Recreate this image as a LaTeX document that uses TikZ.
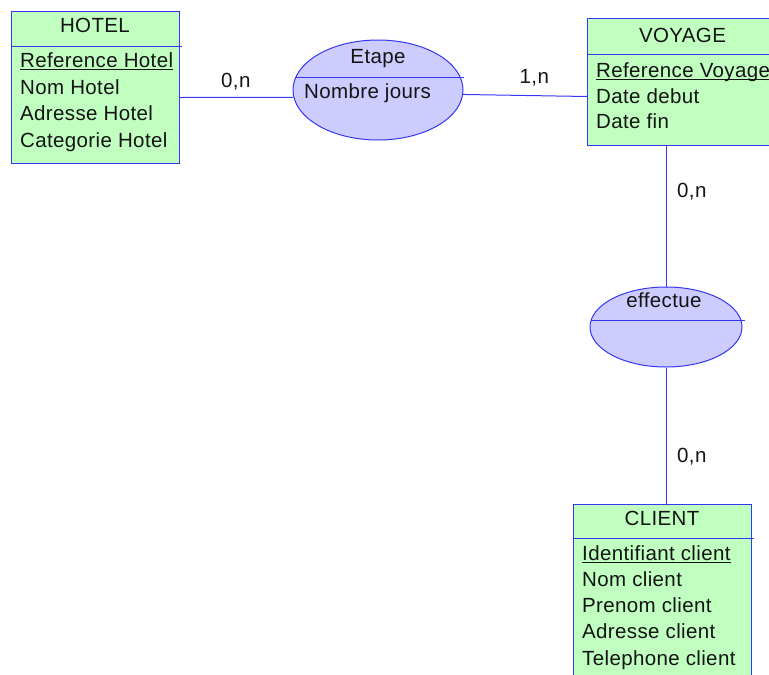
\documentclass[tikz,border=0pt]{standalone}
\usepackage{fontspec}
\setmainfont{Liberation Sans}[LetterSpace=1.8]
\usetikzlibrary{calc, shapes.geometric}

\definecolor{entfill}{HTML}{C0FFC0}
\definecolor{assfill}{HTML}{CCCCFF}
\definecolor{edge}{HTML}{3636F5}

% 主鍵底線
\newcommand{\keyattr}[1]{\setbox0\hbox{#1}\rlap{\vrule height -2pt depth 3pt width \wd0}\box0}

\begin{document}
\begin{tikzpicture}[x=1pt, y=-1pt,
    every node/.style={font=\fontsize{20.5}{24}\selectfont, text=black!92, inner sep=0pt},
    entity/.style={draw=edge, fill=entfill, line width=1pt, rectangle},
    assoc/.style={draw=edge, fill=assfill, line width=1pt, ellipse},
    link/.style={draw=edge, line width=1pt},
    attr/.style={anchor=base west},
    title/.style={anchor=base}]
    \clip (0,0) rectangle (769,675);

    % --- 1. 實體 HOTEL, VOYAGE, CLIENT ---
    \node[entity, anchor=north west, minimum width=168, minimum height=152] (hotel) at (11,11) {};
    \node[entity, anchor=north west, minimum width=191, minimum height=127] (voyage) at (587,18) {};
    \node[entity, anchor=north west, minimum width=178, minimum height=180] (client) at (573,504) {};
    \draw[link] ($(hotel.north west)+(0,35)$) -- ($(hotel.north east)+(2,35)$);
    \draw[link] ($(voyage.north west)+(0,36)$) -- ($(voyage.north east)+(0,36)$);
    \draw[link] ($(client.north west)+(0,34)$) -- ($(client.north east)+(2,34)$);

    % --- 2. 關聯 Etape, effectue ---
    \node[assoc, minimum width=170, minimum height=100] (etape) at (378,90) {};
    \node[assoc, minimum width=152, minimum height=80] (effectue) at (666,327) {};
    \draw[link] ($(etape.center)+(-83,-13)$) -- ($(etape.center)+(86,-13)$);
    \draw[link] ($(effectue.center)+(-75,-7)$) -- ($(effectue.center)+(79,-7)$);

    % --- 3. 連線 ---
    \draw[link] ($(hotel.east)+(0,10)$) -- (etape.185);
    \draw[link] (etape.357) -- ($(voyage.west)+(0,14.5)$);
    \draw[link] (effectue.north) -- (effectue.north |- voyage.south);
    \draw[link] (effectue.south) -- (effectue.south |- client.north);

    % --- 4. 標題與屬性 ---
    \node[title] (hotelT) at (95,32) {HOTEL};
    \node[attr] (hotelA) at (20,67) {\keyattr{Reference Hotel}};
    \node[attr] (hotelB) at (20,94) {Nom Hotel};
    \node[attr] (hotelC) at (20,120.5) {Adresse Hotel};
    \node[attr] (hotelD) at (20,147) {Categorie Hotel};

    \node[title] (voyageT) at (682.5,42) {VOYAGE};
    \node[attr] (voyageA) at (596,77) {\keyattr{Reference Voyage}};
    \node[attr] (voyageB) at (596,103) {Date debut};
    \node[attr] (voyageC) at (596,128.5) {Date fin};

    \node[title] (clientT) at (662,525) {CLIENT};
    \node[attr] (clientA) at (582,560) {\keyattr{Identifiant client}};
    \node[attr] (clientB) at (582,586.5) {Nom client};
    \node[attr] (clientC) at (582,612.5) {Prenom client};
    \node[attr] (clientD) at (582,638.5) {Adresse client};
    \node[attr] (clientE) at (582,665) {Telephone client};

    \node[title] (etapeT) at (378,63) {Etape};
    \node[attr] (etapeA) at (304,98.5) {Nombre jours};
    \node[title] (effectueT) at (664,307) {effectue};

    % --- 5. 基數 ---
    \node[attr] (card1) at (221,87) {0,n};
    \node[attr] (card2) at (519.5,83.5) {1,n};
    \node[attr] (card3) at (677,197) {0,n};
    \node[attr] (card4) at (677,462) {0,n};

\end{tikzpicture}
\end{document}
